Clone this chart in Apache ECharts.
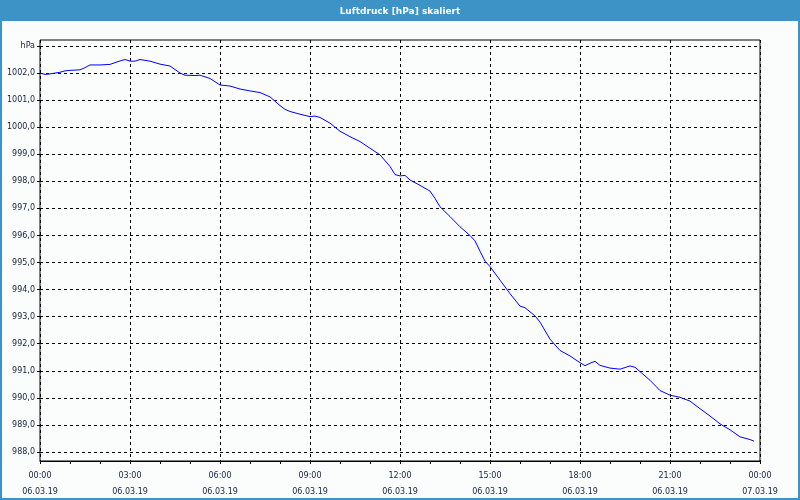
<!DOCTYPE html>
<html>
<head>
<meta charset="utf-8">
<script src="https://cdn.jsdelivr.net/npm/echarts@6/dist/echarts.min.js"></script>
<style>
html,body{margin:0;padding:0;background:#fbfdfc;}
#chart{width:800px;height:500px;}
</style>
</head>
<body>
<div id="chart"></div>
<script>
var titleText = 'Luftdruck [hPa] skaliert';
var times = ['00:00','00:10','00:20','00:30','00:40','00:50','01:00','01:20','01:30','01:40','02:00','02:20','02:40','02:50','03:00','03:10','03:20','03:40','04:00','04:20','04:40','04:50','05:10','05:20','05:40','06:00','06:20','06:40','07:00','07:20','07:40','08:00','08:10','08:20','08:40','09:00','09:10','09:20','09:40','10:00','10:20','10:40','11:00','11:20','11:40','11:50','12:00','12:10','12:20','12:40','13:00','13:10','13:20','13:40','14:00','14:20','14:30','14:40','14:50','15:00','15:20','15:40','16:00','16:10','16:30','16:40','17:00','17:20','17:40','18:00','18:10','18:20','18:30','18:40','19:00','19:20','19:40','19:50','20:00','20:20','20:40','21:00','21:20','21:40','22:00','22:20','22:40','23:00','23:20','23:40','23:48'];
var pressure = [1002.00,1001.95,1001.97,1002.00,1002.03,1002.08,1002.10,1002.12,1002.20,1002.30,1002.30,1002.32,1002.45,1002.50,1002.44,1002.44,1002.50,1002.44,1002.33,1002.26,1002.00,1001.92,1001.91,1001.92,1001.80,1001.56,1001.52,1001.41,1001.34,1001.28,1001.12,1000.80,1000.66,1000.58,1000.48,1000.39,1000.41,1000.36,1000.15,999.85,999.65,999.47,999.22,998.98,998.55,998.25,998.20,998.22,998.05,997.85,997.64,997.37,997.06,996.70,996.32,996.00,995.80,995.42,995.05,994.85,994.35,993.85,993.39,993.33,993.03,992.80,992.17,991.75,991.55,991.30,991.19,991.28,991.35,991.20,991.10,991.06,991.18,991.13,990.97,990.65,990.27,990.10,990.02,989.88,989.60,989.33,989.04,988.82,988.56,988.46,988.40];
var xTickHours = [0,3,6,9,12,15,18,21,24];
var xTimeLabels = ['00:00','03:00','06:00','09:00','12:00','15:00','18:00','21:00','00:00'];
var xDateLabels = ['06.03.19','06.03.19','06.03.19','06.03.19','06.03.19','06.03.19','06.03.19','06.03.19','07.03.19'];
var yUnitLabel = 'hPa';

function toHours(s){var p=s.split(':');return +p[0]+(+p[1])/60;}
var seriesData = times.map(function(t,i){return [toHours(t), pressure[i]];});

var labelColor = '#15223c';
var font = 'DejaVu Sans';
var chart = echarts.init(document.getElementById('chart'));
chart.setOption({
  backgroundColor: '#fbfdfc',
  animation: false,
  title: {
    text: titleText, left: 'center', top: 2,
    textStyle: {color: '#ffffff', fontSize: 9, fontWeight: 'bold', fontFamily: font}
  },
  graphic: [
    {type: 'rect', z: -1, shape: {x: 0, y: 0, width: 800, height: 21}, style: {fill: '#3d93c5'}},
    {type: 'rect', z: 100, shape: {x: 1, y: 1, width: 798, height: 498}, style: {fill: 'none', stroke: '#3d93c5', lineWidth: 2}}
  ],
  grid: [
    {left: 40, top: 40, width: 720, height: 421, show: true, borderColor: '#000', borderWidth: 1, backgroundColor: 'transparent'},
    {left: 40, top: 46, width: 720, height: 406}
  ],
  xAxis: [
    {
      type: 'value', gridIndex: 0, min: 0, max: 24, interval: 3,
      axisLine: {show: true, lineStyle: {color: '#000', width: 1}},
      axisTick: {show: true, length: 3, lineStyle: {color: '#000'}},
      minorTick: {show: true, splitNumber: 3, length: 3, lineStyle: {color: '#000'}},
      splitLine: {show: true, lineStyle: {color: '#000', type: [3,3], width: 1}},
      axisLabel: {
        color: labelColor, fontFamily: font, fontSize: 8, margin: 7, lineHeight: 16,
        formatter: function(v){var i = xTickHours.indexOf(v); return i < 0 ? '' : xTimeLabels[i] + '\n' + xDateLabels[i];}
      }
    },
    {type: 'value', gridIndex: 1, min: 0, max: 24, show: false}
  ],
  yAxis: [
    {type: 'value', gridIndex: 0, min: 0, max: 1, show: false},
    {
      type: 'value', gridIndex: 1, min: 988, max: 1003, interval: 1,
      axisLine: {show: false},
      axisTick: {show: true, length: 3, lineStyle: {color: '#000'}},
      splitLine: {show: true, lineStyle: {color: '#000', type: [3,3], width: 1}},
      axisLabel: {
        color: labelColor, fontFamily: font, fontSize: 8, margin: 5,
        formatter: function(v){return v === 1003 ? yUnitLabel : v.toFixed(1).replace('.', ',');}
      }
    }
  ],
  series: [{
    type: 'line', xAxisIndex: 1, yAxisIndex: 1, data: seriesData,
    showSymbol: false, symbol: 'none',
    lineStyle: {color: '#0000ff', width: 1}
  }]
});
</script>
</body>
</html>
